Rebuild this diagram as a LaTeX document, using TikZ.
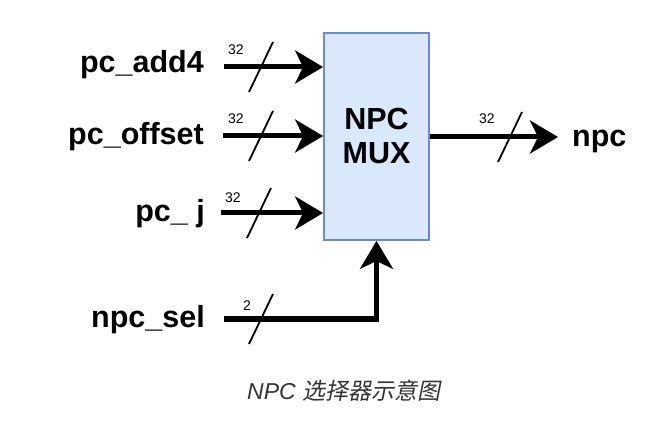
\documentclass[tikz,border=0pt]{standalone}
\usepackage{fontspec}
\setmainfont{Liberation Sans}
\newfontfamily\cjkfont[FakeSlant=0.2]{Noto Sans CJK SC}
\usetikzlibrary{arrows.meta,calc}
\definecolor{boxfill}{HTML}{DAE8FC}
\definecolor{boxdraw}{HTML}{6C8EBF}
\definecolor{captc}{HTML}{333333}
\begin{document}
\begin{tikzpicture}[x=1pt,y=-1pt,
  sig/.style={font=\fontsize{30.5}{30.5}\selectfont\bfseries, inner sep=0pt, anchor=base east},
  wire/.style={line width=5pt, -{Stealth[length=28pt,width=33pt,inset=8pt]}},
  buswidth/.style={font=\fontsize{14}{14}\selectfont, inner sep=0pt, anchor=base west},
  slash/.style={line width=1.8pt}]
\useasboundingbox (0,0) rectangle (666,435);
% mux box
\node[draw=boxdraw, fill=boxfill, line width=1.8pt, minimum width=105pt, minimum height=207pt,
      inner sep=0pt, align=center, font=\fontsize{30.5}{34}\selectfont\bfseries] (mux) at (376.5,136.5) {NPC\\MUX};
% input labels
\node[sig] (ladd) at (204,73) {pc\_add4};
\node[sig] (loff) at (204,145) {pc\_offset};
\node[sig] (lj) at (205,222) {pc\_ j};
\node[sig] (lsel) at (205,327) {npc\_sel};
\node[font=\fontsize{30.5}{30.5}\selectfont\bfseries, inner sep=0pt, anchor=base west] (lnpc) at (572,147) {npc};
% wire start coordinates
\coordinate (a) at (224,67);
\coordinate (o) at (223,136);
\coordinate (j) at (221,213);
\coordinate (s) at (224,319);
\coordinate (q) at (558,137);
% wires
\draw[wire] (a) -- (a -| mux.west);
\draw[wire] (o) -- (o -| mux.west);
\draw[wire] (j) -- (j -| mux.west);
\draw[wire] (s) -| (mux.south);
\draw[wire] (mux.east |- q) -- (q);
% bus slashes
\foreach \xx/\yy in {261/67, 261/136, 259/213, 261/319, 510/137}{
  \draw[slash] (\xx+12,\yy-25) -- (\xx-12,\yy+25);
}
% bus widths
\node[buswidth] (wa) at (228,55) {32};
\node[buswidth] (wo) at (228,124) {32};
\node[buswidth] (wj) at (225,203) {32};
\node[buswidth] (ws) at (243,310) {2};
\node[buswidth] (wq) at (479,124) {32};
% caption
\node[inner sep=0pt, anchor=base west, text=captc, font=\fontsize{23}{23}\selectfont] (cap) at (247,399)
  {\itshape NPC {\cjkfont 选择器示意图}};
\end{tikzpicture}
\end{document}
